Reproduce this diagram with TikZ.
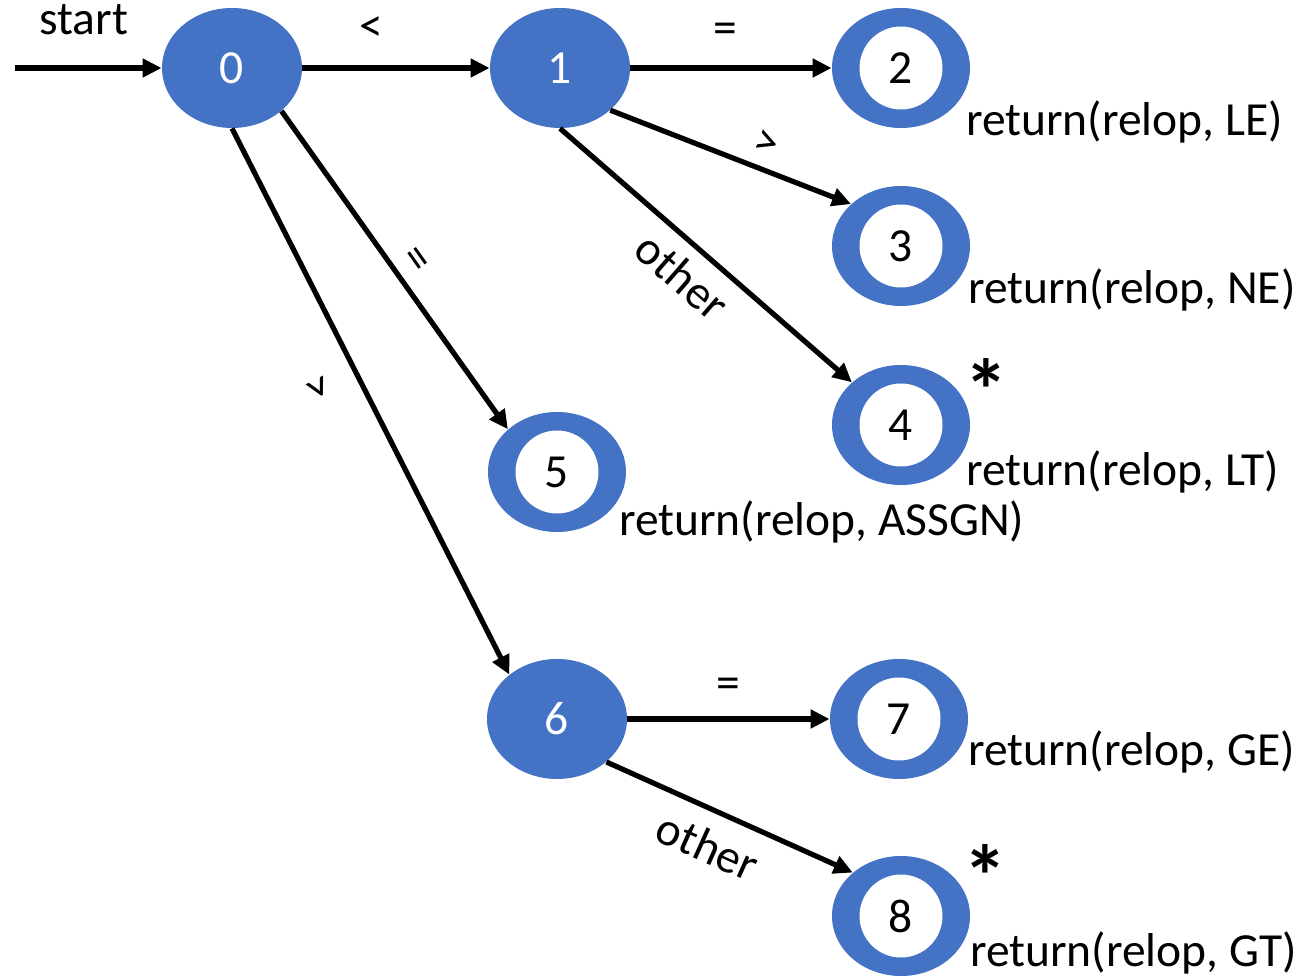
\documentclass[tikz,border=0pt]{standalone}
\usepackage{fontspec}
\setmainfont{Carlito}
\usetikzlibrary{arrows.meta,shapes.geometric}
\definecolor{stateblue}{HTML}{4472C4}

\begin{document}
\begin{tikzpicture}[x=0.5pt, y=-0.5pt,
    font=\fontsize{23.75}{28}\selectfont,
    state/.style={ellipse, fill=stateblue, text=white, minimum width=70pt, minimum height=60pt, inner sep=0pt},
    accept/.style={ellipse, fill=stateblue, minimum width=69pt, minimum height=60pt, inner sep=0pt,
      path picture={\fill[white] (path picture bounding box.center) circle (20.75pt);}},
    trans/.style={line width=2.6pt, -{Triangle[length=9.5pt, width=9pt]}},
    lbl/.style={inner sep=0pt},
    retmark/.style={font=\fontsize{44}{50}\selectfont\bfseries, inner sep=0pt, anchor=base}]
  \useasboundingbox (0,0) rectangle (1301,977);

  % Define nodes
  \node[state] (0) at (232,68) {0};
  \node[state] (1) at (560,68) {1};
  \node[accept] (2) at (901,68) {2};
  \node[accept] (3) at (901,246) {3};
  \node[accept] (4) at (901,425) {4};
  \node[accept] (5) at (557,472) {5};
  \node[state] (6) at (557,719) {6};
  \node[accept] (7) at (899,719) {7};
  \node[accept] (8) at (901,916) {8};
  \coordinate (in) at (15,68);

  % Actions of the final states
  \node[anchor=base west] (r2) at (959,136) {return(relop, LE)};
  \node[anchor=base west] (r3) at (961,304) {return(relop, NE)};
  \node[anchor=base west] (r4) at (959,486) {return(relop, LT)};
  \node[anchor=base west] (r5) at (612,536) {return(relop, ASSGN)};
  \node[anchor=base west] (r7) at (961,766) {return(relop, GE)};
  \node[anchor=base west] (r8) at (963,966) {return(relop, GT)};
  \node[retmark] (s4) at (986,422) {*};
  \node[retmark] (s8) at (985,907) {*};

  % Draw edges
  \draw[trans] (in) -- (0) node[lbl, pos=0.47, above=15.5pt] {start};
  \draw[trans] (0) -- (1) node[lbl, pos=0.37, above=12pt] {<};
  \draw[trans] (1) -- (2) node[lbl, pos=0.47, above=11pt] {=};
  \draw[trans] (1.-40) -- (3.140) node[lbl, pos=0.61, sloped, above=5pt] {>};
  \draw[trans] (1.south) -- (4) node[lbl, pos=0.49, sloped, below=6pt] {other};
  \draw[trans] (0.-41) -- (5.139) node[lbl, pos=0.51, sloped, above=4pt] {=};
  \draw[trans] (0.south) -- (6.137) node[lbl, pos=0.44, sloped, below=14pt] {>};
  \draw[trans] (6) -- (7) node[lbl, midway, above=9pt] {=};
  \draw[trans] (6.-41) -- (8.138) node[lbl, pos=0.47, sloped, below=8pt] {other};
\end{tikzpicture}
\end{document}
